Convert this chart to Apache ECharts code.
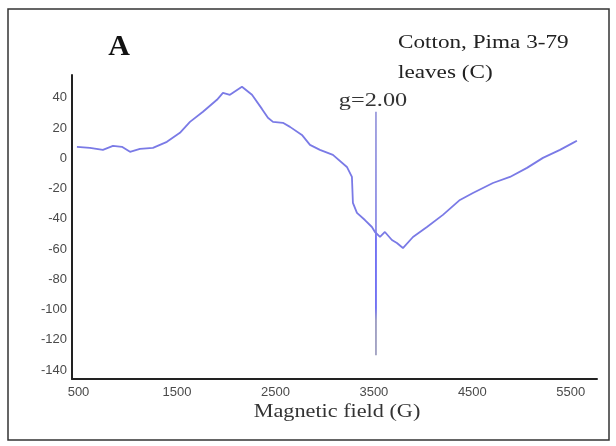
<!DOCTYPE html>
<html>
<head>
<meta charset="utf-8">
<script src="https://cdn.jsdelivr.net/npm/echarts@6/dist/echarts.min.js"></script>
<style>
html,body{margin:0;padding:0;background:#fff;}
#chart{width:616px;height:446px;}
</style>
</head>
<body>
<div id="chart"></div>
<script>
// Magnetic field (G)
var fieldG = [484,616,748,850,941,1023,1124,1256,1398,1530,
  1632,1764,1906,1967,2038,2160,2262,2363,2424,2475,
  2576,2648,2769,2851,2952,3084,3226,3277,3287,3328,
  3409,3480,3511,3562,3612,3683,3734,3795,
  3897,4039,4201,4374,4506,4709,4882,5055,5217,5390,
  5522,5562];
// EPR signal (a.u.)
var signal = [7.5,6.8,5.5,8.1,7.5,4.2,6.2,6.8,10.8,16.8,
  24.0,30.7,38.6,43.2,41.9,47.2,41.9,32.6,26.7,24.0,
  23.4,20.7,15.4,8.8,5.5,2.2,-5.8,-12.4,-29.6,-36.2,
  -40.9,-45.5,-48.8,-52.1,-48.8,-54.1,-56.1,-59.4,
  -52.1,-45.5,-37.5,-27.6,-23.0,-16.4,-12.4,-6.4,0.2,5.5,
  10.1,11.5];
// sharp g = 2.00 line
var spikeField = [3521, 3521];
var spikeSignal = [30.7, -130.3];
var xTickLabels = [500,1500,2500,3500,4500,5500];
var yTickLabels = [40,20,0,-20,-40,-60,-80,-100,-120,-140];
var panelLabel = 'A';
var sampleLines = ['Cotton, Pima 3-79', 'leaves (C)'];
var gLabel = 'g=2.00';
var xTitle = 'Magnetic field (G)';

var pts = fieldG.map(function(x,i){return [x, signal[i]];});
var spikePts = spikeField.map(function(x,i){return [x, spikeSignal[i]];});

var chart = echarts.init(document.getElementById('chart'), null, {renderer:'canvas'});
chart.setOption({
  animation:false,
  backgroundColor:'#ffffff',
  grid:{left:72, right:19, top:75, bottom:67},
  xAxis:{
    type:'value', min:434, max:5766,
    axisLine:{show:true, onZero:false, lineStyle:{color:'#222', width:2}},
    axisTick:{show:false},
    splitLine:{show:false},
    axisLabel:{customValues:xTickLabels, formatter:function(v){return String(v);}, color:'#4a4a4a', fontFamily:'Liberation Sans', fontSize:13, margin:7}
  },
  yAxis:{
    type:'value', min:-146, max:55,
    axisLine:{show:true, onZero:false, lineStyle:{color:'#222', width:2}},
    axisTick:{show:false},
    splitLine:{show:false},
    axisLabel:{customValues:yTickLabels, formatter:function(v){return String(v);}, color:'#4a4a4a', fontFamily:'Liberation Sans', fontSize:13, margin:5}
  },
  series:[{
    type:'line', data:pts, showSymbol:false, smooth:false,
    lineStyle:{color:'#7a7ae6', width:1.8}
  },{
    type:'line', data:spikePts, showSymbol:false,
    lineStyle:{width:1.8, color:{type:'linear', x:0, y:0, x2:0, y2:1, colorStops:[
      {offset:0, color:'#9c9cdc'}, {offset:0.48, color:'#8a8ae6'},
      {offset:0.52, color:'#6a6af2'}, {offset:0.8, color:'#6a6af2'},
      {offset:0.85, color:'#9a9ac0'}, {offset:1, color:'#a0a0c0'}]}}
  }],
  graphic:[
    {type:'rect', shape:{x:8, y:9, width:601, height:431}, style:{fill:'none', stroke:'#333', lineWidth:1.5}},
    {type:'text', x:119, y:47, style:{text:panelLabel, font:'bold 30px "Liberation Serif"', fill:'#111', align:'center', verticalAlign:'middle'}},
    {type:'text', x:398, y:43, scaleX:1.22, style:{text:sampleLines[0], font:'19px "Liberation Serif"', fill:'#222', align:'left', verticalAlign:'middle'}},
    {type:'text', x:398, y:73, scaleX:1.22, style:{text:sampleLines[1], font:'19px "Liberation Serif"', fill:'#222', align:'left', verticalAlign:'middle'}},
    {type:'text', x:373, y:101, scaleX:1.35, style:{text:gLabel, font:'18px "Liberation Serif"', fill:'#333', align:'center', verticalAlign:'middle'}},
    {type:'text', x:337, y:412, scaleX:1.17, style:{text:xTitle, font:'19px "Liberation Serif"', fill:'#333', align:'center', verticalAlign:'middle'}}
  ]
});
</script>
</body>
</html>
